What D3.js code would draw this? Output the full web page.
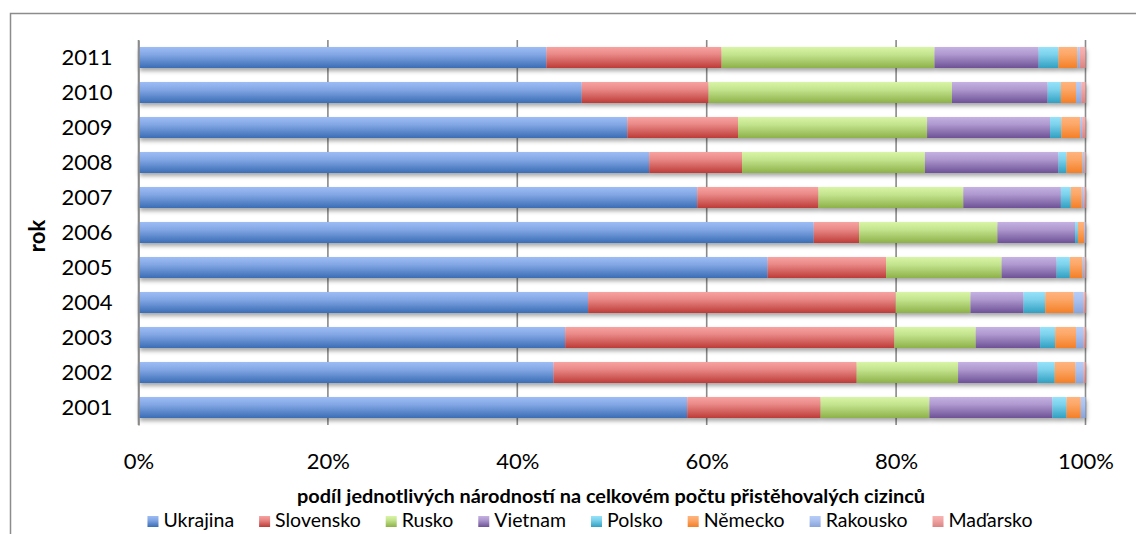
<!DOCTYPE html>
<html>
<head>
<meta charset="utf-8">
<script src="https://cdn.jsdelivr.net/npm/d3@7"></script>
<style>
  html, body { margin: 0; padding: 0; background: #fff; }
  svg { display: block; font-family: Lato, "Open Sans", sans-serif; }
</style>
</head>
<body>
<svg id="chart" width="1136" height="534"></svg>
<script>
// ---- data (shares in %, years 2001..2011) ----
const years = ["2001","2002","2003","2004","2005","2006","2007","2008","2009","2010","2011"];
const seriesNames = ["Ukrajina","Slovensko","Rusko","Vietnam","Polsko","Německo","Rakousko","Maďarsko"];
const ukrajina  = [58.0, 43.8, 45.1, 47.5, 66.4, 71.3, 59.0, 53.9, 51.7, 46.8, 43.1];
const slovensko = [14.1, 32.0, 34.8, 32.5, 12.5,  4.8, 12.8,  9.8, 11.7, 13.4, 18.5];
const rusko     = [11.5, 10.7,  8.6,  7.9, 12.2, 14.6, 15.3, 19.3, 20.0, 25.7, 22.5];
const vietnam   = [13.0,  8.4,  6.8,  5.6,  5.8,  8.2, 10.3, 14.1, 13.0, 10.1, 11.0];
const polsko    = [ 1.5,  1.8,  1.6,  2.3,  1.4,  0.3, 1.05, 0.85,  1.2,  1.4,  2.1];
const nemecko   = [ 1.5,  2.2,  2.2,  3.0, 1.35, 0.65, 1.15,  1.7,  2.0,  1.6,  2.0];
const rakousko  = [ 0.5, 0.85,  0.8, 1.05,  0.2,  0.1,  0.2,  0.2,  0.2, 0.55, 0.25];
const madarsko  = [ 0.0,  0.2,  0.2,  0.2,  0.1, 0.05,  0.2,  0.1, 0.35, 0.45,  0.6];
const xTicks = [0, 0.2, 0.4, 0.6, 0.8, 1];
const xTitle = "podíl jednotlivých národností na celkovém počtu přistěhovalých cizinců";
const yTitle = "rok";

// colours: top and bottom of each bar gradient
const colorsTop    = ["#9dbcf5","#f7a3a1","#d8f5a6","#c5b1e2","#96e2fa","#ffb47e","#b7cdf8","#f9b3b1"];
const colorsBottom = ["#3a6db5","#bd3b37","#8db148","#6d5196","#31a0c2","#f47f27","#88a4da","#da8482"];

const valuesBySeries = [ukrajina, slovensko, rusko, vietnam, polsko, nemecko, rakousko, madarsko];
const table = years.map((yr, i) => {
  const row = { year: yr };
  seriesNames.forEach((s, k) => row[s] = valuesBySeries[k][i]);
  return row;
});

const svg = d3.select("#chart");
const defs = svg.append("defs");

seriesNames.forEach((s, k) => {
  const g = defs.append("linearGradient").attr("id", "grad" + k)
    .attr("x1", 0).attr("y1", 0).attr("x2", 0).attr("y2", 1);
  g.append("stop").attr("offset", "0%").attr("stop-color", colorsTop[k]);
  g.append("stop").attr("offset", "35%").attr("stop-color", d3.interpolateRgb(colorsTop[k], colorsBottom[k])(0.25));
  g.append("stop").attr("offset", "100%").attr("stop-color", colorsBottom[k]);
});
const f = defs.append("filter").attr("id", "shadow").attr("x", "-5%").attr("y", "-50%").attr("width", "110%").attr("height", "220%");
f.append("feDropShadow").attr("dx", 1).attr("dy", 3).attr("stdDeviation", 2.2)
  .attr("flood-color", "#000").attr("flood-opacity", 0.35);

// chart frame
svg.append("rect").attr("x", 10.5).attr("y", 13.5).attr("width", 1140).attr("height", 540)
  .attr("fill", "none").attr("stroke", "#8c8c8c").attr("stroke-width", 1.5);

const plotLeft = 138.5, plotRight = 1085.5, plotTop = 40, plotBottom = 425;
const x = d3.scaleLinear().domain([0, 1]).range([plotLeft, plotRight]);
const y = d3.scaleBand().domain(years.slice().reverse()).range([plotTop, plotBottom]).paddingInner(0.4).paddingOuter(0.2);

// gridlines
svg.append("g").selectAll("line").data(xTicks).join("line")
  .attr("x1", d => x(d)).attr("x2", d => x(d))
  .attr("y1", plotTop).attr("y2", plotBottom)
  .attr("stroke", "#8a8a8a").attr("stroke-width", 1.6);

// stacked bars
const stack = d3.stack().keys(seriesNames).offset(d3.stackOffsetExpand);
const stacked = stack(table);

const rows = svg.append("g").selectAll("g.row").data(years).join("g")
  .attr("class", "row").attr("filter", "url(#shadow)");
rows.each(function(yr, i) {
  d3.select(this).selectAll("rect").data(stacked.map((layer, k) => ({ k, v: layer[i] })))
    .join("rect")
    .attr("x", d => x(d.v[0]))
    .attr("width", d => Math.max(0, x(d.v[1]) - x(d.v[0])))
    .attr("y", y(yr))
    .attr("height", y.bandwidth())
    .attr("fill", d => `url(#grad${d.k})`);
});

// y axis
const yAxis = d3.axisLeft(y).tickSize(0).tickPadding(26);
const yg = svg.append("g").attr("transform", `translate(${plotLeft},0)`).call(yAxis);
yg.select(".domain").attr("stroke", "#8a8a8a").attr("stroke-width", 1.6);
yg.selectAll("text").attr("font-size", 22).attr("fill", "#000").attr("font-family", "Lato");

// x axis
const xAxis = d3.axisBottom(x).tickValues(xTicks).tickFormat(d3.format(".0%")).tickSize(0).tickPadding(28);
const xg = svg.append("g").attr("transform", `translate(0,${plotBottom})`).call(xAxis);
xg.select(".domain").remove();
xg.selectAll("text").attr("font-size", 22).attr("fill", "#000").attr("font-family", "Lato");

// axis titles
svg.append("text").attr("x", 611).attr("y", 503).attr("text-anchor", "middle")
  .attr("font-weight", "bold").attr("font-size", 18.5)
  .attr("textLength", 628).attr("lengthAdjust", "spacingAndGlyphs").text(xTitle);
svg.append("text").attr("transform", "translate(45,236) rotate(-90)").attr("text-anchor", "middle")
  .attr("font-weight", "bold").attr("font-size", 22).text(yTitle);

// legend
const lg = svg.append("g");
const items = lg.selectAll("g").data(seriesNames).join("g");
items.append("rect").attr("width", 11).attr("height", 11).attr("y", -11)
  .attr("fill", (d, k) => `url(#grad${k})`);
items.append("text").attr("x", 16).attr("y", 0).attr("font-size", 19.5).text(d => d);
let cx = 0;
items.each(function() {
  const w = this.querySelector("text").getComputedTextLength();
  d3.select(this).attr("transform", `translate(${cx},0)`);
  cx += 16 + w + 25;
});
const totalW = cx - 25;
lg.attr("transform", `translate(${590 - totalW / 2},527)`);
</script>
</body>
</html>
